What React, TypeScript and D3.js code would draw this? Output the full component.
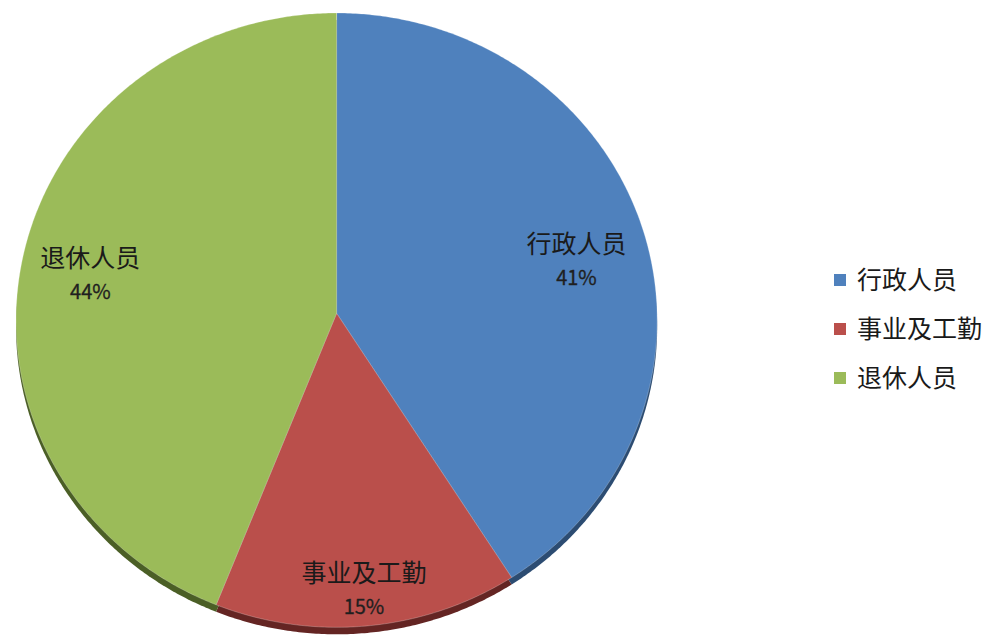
import React, { useEffect, useRef } from 'react';
import * as d3 from 'd3';

// Chart data
const categories = ['行政人员', '事业及工勤', '退休人员'];
const values = [41, 15, 44];
const colors = ['#4F81BD', '#BA4F4B', '#9BBB59'];
const sideColors = ['#2C4C72', '#642523', '#4B5F26'];

const App: React.FC = () => {
  const ref = useRef<SVGSVGElement>(null);

  useEffect(() => {
    if (!ref.current) return;
    const svg = d3.select(ref.current);
    svg.selectAll('*').remove();

    // slightly tilted pie with a little perspective (front is larger than back)
    const cx = 336.6;
    const cy = 313.3;
    const rx = 320.5;
    const ry = 307;
    const persp = 0.0223;
    const depth = 7;
    const font = '"Noto Sans CJK SC", "Noto Sans", sans-serif';

    const project = (angle: number, k: number): [number, number] => {
      const u = Math.sin(angle) * k;
      const v = -Math.cos(angle) * k;
      const w = 1 - persp * v;
      return [cx + (rx * u) / w, cy + (ry * v) / w];
    };

    const data = categories.map((c, i) => ({ name: c, value: values[i], i }));
    const pie = d3.pie<any>().sort(null).value(d => d.value);
    const arcs = pie(data);

    const slicePoints = (a: d3.PieArcDatum<any>) => {
      const pts: [number, number][] = [[cx, cy]];
      const steps = Math.max(8, Math.ceil(((a.endAngle - a.startAngle) * 180) / Math.PI * 2));
      for (let s = 0; s <= steps; s++) {
        const t = a.startAngle + ((a.endAngle - a.startAngle) * s) / steps;
        pts.push(project(t, 1));
      }
      return pts;
    };
    const line = d3.line().curve(d3.curveLinearClosed);

    // 3D edge
    svg.append('g')
      .attr('transform', `translate(0,${depth})`)
      .selectAll('path')
      .data(arcs)
      .enter()
      .append('path')
        .attr('d', d => line(slicePoints(d)))
        .attr('fill', d => sideColors[d.data.i]);

    // top face
    svg.append('g')
      .selectAll('path')
      .data(arcs)
      .enter()
      .append('path')
        .attr('d', d => line(slicePoints(d)))
        .attr('fill', d => colors[d.data.i])
        .attr('stroke', 'rgba(255,255,255,0.3)')
        .attr('stroke-width', 0.8);

    // data labels
    const labelRadius = [0.77, 0.89, 0.78];
    const labelShift = [3.5, 0, -1.8]; // degrees
    const labels = svg.append('g');
    arcs.forEach(a => {
      const mid = (a.startAngle + a.endAngle) / 2 + (labelShift[a.data.i] * Math.PI) / 180;
      const [x, y] = project(mid, labelRadius[a.data.i]);
      const g = labels.append('g').attr('transform', `translate(${x},${y})`);
      g.append('text')
        .attr('y', -9)
        .attr('text-anchor', 'middle')
        .attr('font-family', font)
        .attr('font-size', '25px')
        .attr('fill', '#1a1a1a')
        .text(a.data.name);
      g.append('text')
        .attr('y', 23)
        .attr('text-anchor', 'middle')
        .attr('font-family', font)
        .attr('font-size', '20px')
        .attr('fill', '#1f1f1f')
        .attr('stroke', '#1f1f1f')
        .attr('stroke-width', 0.3)
        .text(`${a.data.value}%`);
    });

    // legend
    const legend = svg.append('g').attr('transform', 'translate(834,280)');
    categories.forEach((c, i) => {
      const row = legend.append('g').attr('transform', `translate(0,${i * 49})`);
      row.append('rect')
        .attr('x', 0)
        .attr('y', -6)
        .attr('width', 12)
        .attr('height', 12)
        .attr('fill', colors[i]);
      row.append('text')
        .attr('x', 23)
        .attr('y', 9)
        .attr('font-family', font)
        .attr('font-size', '25px')
        .attr('fill', '#1a1a1a')
        .text(c);
    });
  }, []);

  return (
    <svg
      ref={ref}
      width={990}
      height={641}
      style={{ position: 'absolute', left: 0, top: 0, background: '#fff' }}
    />
  );
};

export default App;
